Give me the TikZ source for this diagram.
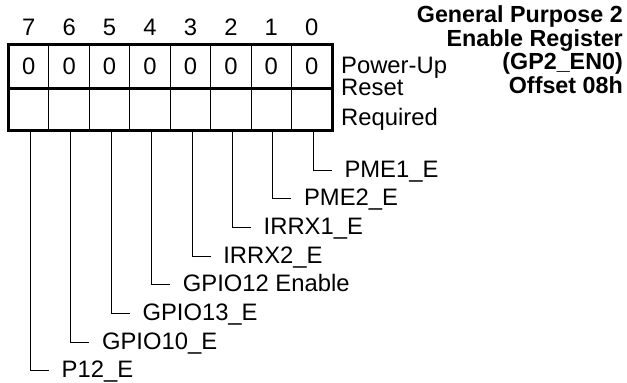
\documentclass[tikz,border=0pt]{standalone}
\usepackage{fontspec}
\setmainfont{Liberation Sans}
\begin{document}
\begin{tikzpicture}[x=1pt,y=-1pt,
  txt/.style={inner sep=0pt, font=\fontsize{23.8}{26}\selectfont},
  ttl/.style={inner sep=0pt, anchor=base east, font=\fontsize{23.3}{26}\selectfont\bfseries},
  valcell/.style={draw, line width=1pt, minimum width=40.44pt, minimum height=43.5pt, inner sep=0pt, font=\fontsize{23.8}{26}\selectfont},
  reqcell/.style={draw, line width=1pt, minimum width=40.44pt, minimum height=42pt, inner sep=0pt},
  frame/.style={line width=3pt},
  lead/.style={line width=1pt}]
\useasboundingbox (0,0) rectangle (627,383);
\foreach \b in {0,...,7}{
  \node[txt, anchor=base] (h\b) at ({28.72+40.44*(7-\b)}, 35) {\b};
  \node[valcell] (v\b) at ({28.72+40.44*(7-\b)}, 66.25) {0};
  \node[reqcell] (r\b) at ({28.72+40.44*(7-\b)}, 109) {};
  \coordinate (t\b) at ({30.5+40.4*(7-\b)+18.5}, {170+28.7*\b});
}
\draw[frame] (v7.north west) rectangle (r0.south east);
\draw[frame] (v7.south west) -- (v0.south east);
\foreach \b/\t in {0/PME1\_E,1/PME2\_E,2/IRRX1\_E,3/IRRX2\_E,4/GPIO12 Enable,5/GPIO13\_E,6/GPIO10\_E,7/P12\_E}{
  \draw[lead] ([xshift=1.6pt]r\b.south) |- (t\b);
  \node[txt, anchor=base west] (l\b) at ([xshift=12.5pt,yshift=-7pt]t\b) {\t};
}
\node[txt, anchor=base west] (pu) at (341,73.3) {Power-Up};
\node[txt, anchor=base west] (rs) at (341,95) {Reset};
\node[txt, anchor=base west] (rq) at (341,125) {Required};
\node[ttl] (g1) at (623,22.5) {General Purpose 2};
\node[ttl] (g2) at (623,46) {Enable Register};
\node[ttl] (g3) at (623,69.5) {(GP2\_EN0)};
\node[ttl] (g4) at (623,93) {Offset 08h};
\end{tikzpicture}
\end{document}
